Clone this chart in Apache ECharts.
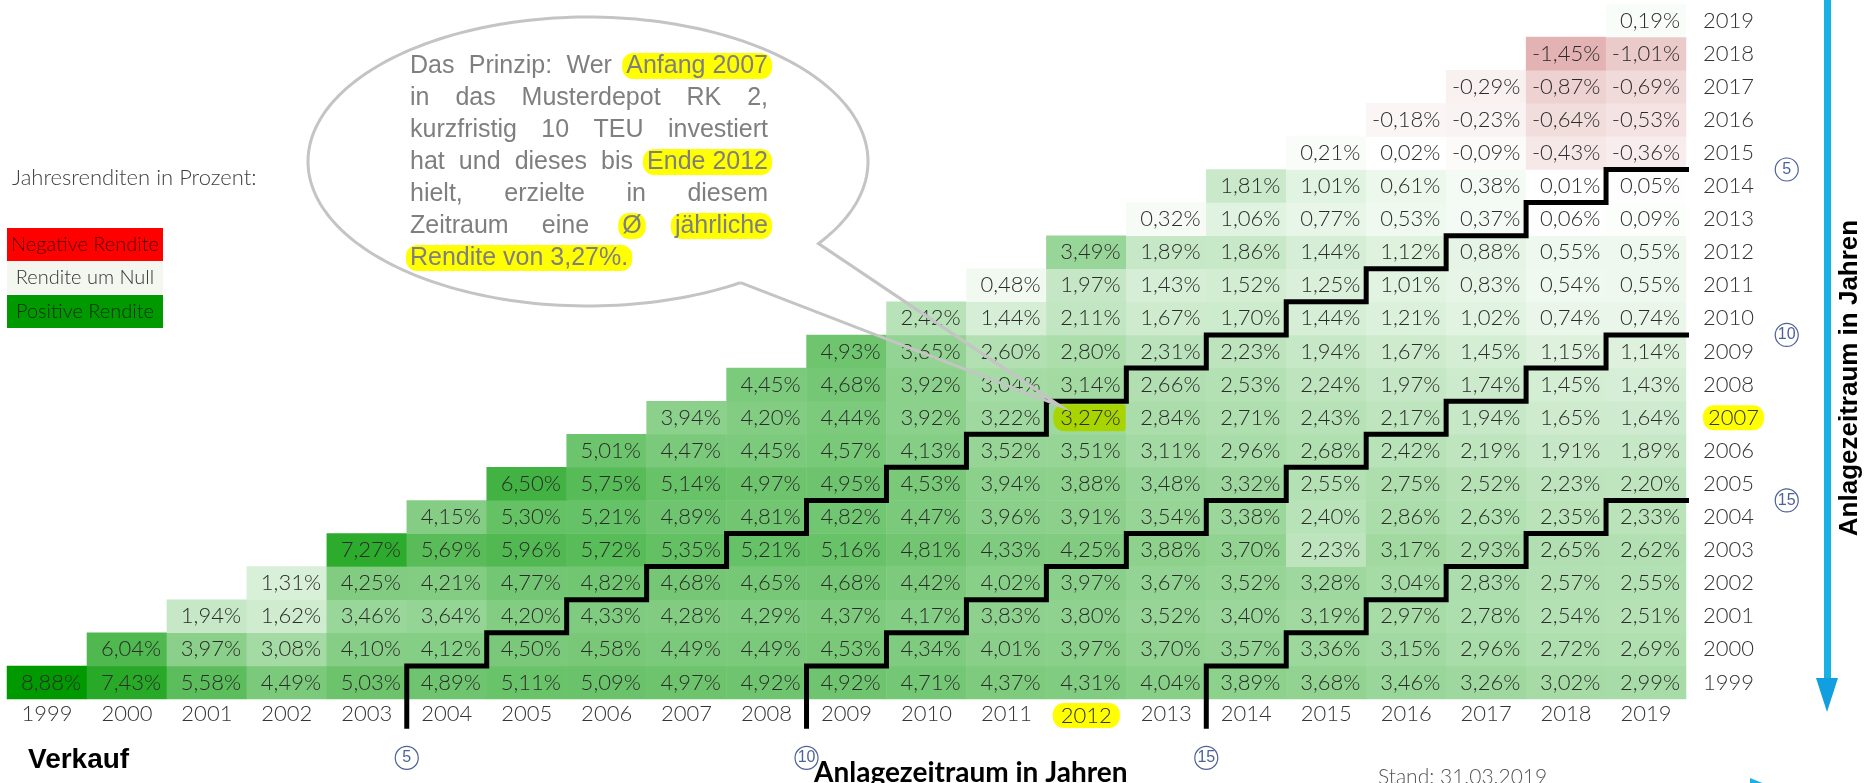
<!DOCTYPE html>
<html><head><meta charset="utf-8">
<script src="https://cdn.jsdelivr.net/npm/echarts@6/dist/echarts.min.js"></script>
<style>html,body{margin:0;padding:0;background:#fff}#c{width:1872px;height:783px}</style>
</head><body><div id="c"></div>
<script>
// ---------- data ----------
const years = ['1999','2000','2001','2002','2003','2004','2005','2006','2007','2008','2009','2010','2011','2012','2013','2014','2015','2016','2017','2018','2019'];
// average annual return (%) by buy year; entries for sell years buyYear..2019
const r1999 = [8.88, 7.43, 5.58, 4.49, 5.03, 4.89, 5.11, 5.09, 4.97, 4.92, 4.92, 4.71, 4.37, 4.31, 4.04, 3.89, 3.68, 3.46, 3.26, 3.02, 2.99];
const r2000 = [6.04, 3.97, 3.08, 4.10, 4.12, 4.50, 4.58, 4.49, 4.49, 4.53, 4.34, 4.01, 3.97, 3.70, 3.57, 3.36, 3.15, 2.96, 2.72, 2.69];
const r2001 = [1.94, 1.62, 3.46, 3.64, 4.20, 4.33, 4.28, 4.29, 4.37, 4.17, 3.83, 3.80, 3.52, 3.40, 3.19, 2.97, 2.78, 2.54, 2.51];
const r2002 = [1.31, 4.25, 4.21, 4.77, 4.82, 4.68, 4.65, 4.68, 4.42, 4.02, 3.97, 3.67, 3.52, 3.28, 3.04, 2.83, 2.57, 2.55];
const r2003 = [7.27, 5.69, 5.96, 5.72, 5.35, 5.21, 5.16, 4.81, 4.33, 4.25, 3.88, 3.70, 2.23, 3.17, 2.93, 2.65, 2.62];
const r2004 = [4.15, 5.30, 5.21, 4.89, 4.81, 4.82, 4.47, 3.96, 3.91, 3.54, 3.38, 2.40, 2.86, 2.63, 2.35, 2.33];
const r2005 = [6.50, 5.75, 5.14, 4.97, 4.95, 4.53, 3.94, 3.88, 3.48, 3.32, 2.55, 2.75, 2.52, 2.23, 2.20];
const r2006 = [5.01, 4.47, 4.45, 4.57, 4.13, 3.52, 3.51, 3.11, 2.96, 2.68, 2.42, 2.19, 1.91, 1.89];
const r2007 = [3.94, 4.20, 4.44, 3.92, 3.22, 3.27, 2.84, 2.71, 2.43, 2.17, 1.94, 1.65, 1.64];
const r2008 = [4.45, 4.68, 3.92, 3.04, 3.14, 2.66, 2.53, 2.24, 1.97, 1.74, 1.45, 1.43];
const r2009 = [4.93, 3.65, 2.60, 2.80, 2.31, 2.23, 1.94, 1.67, 1.45, 1.15, 1.14];
const r2010 = [2.42, 1.44, 2.11, 1.67, 1.70, 1.44, 1.21, 1.02, 0.74, 0.74];
const r2011 = [0.48, 1.97, 1.43, 1.52, 1.25, 1.01, 0.83, 0.54, 0.55];
const r2012 = [3.49, 1.89, 1.86, 1.44, 1.12, 0.88, 0.55, 0.55];
const r2013 = [0.32, 1.06, 0.77, 0.53, 0.37, 0.06, 0.09];
const r2014 = [1.81, 1.01, 0.61, 0.38, 0.01, 0.05];
const r2015 = [0.21, 0.02, -0.09, -0.43, -0.36];
const r2016 = [-0.18, -0.23, -0.64, -0.53];
const r2017 = [-0.29, -0.87, -0.69];
const r2018 = [-1.45, -1.01];
const r2019 = [0.19];
const rows = [r1999, r2000, r2001, r2002, r2003, r2004, r2005, r2006, r2007, r2008, r2009, r2010, r2011, r2012, r2013, r2014, r2015, r2016, r2017, r2018, r2019];
const periods = [5, 10, 15];
const highlightSell = '2012';
const highlightBuy = '2007';
const bubbleLines = [
  [['Das', 0], ['Prinzip:', 0], ['Wer', 0], ['Anfang 2007', 1]],
  [['in', 0], ['das', 0], ['Musterdepot', 0], ['RK', 0], ['2,', 0]],
  [['kurzfristig', 0], ['10', 0], ['TEU', 0], ['investiert', 0]],
  [['hat', 0], ['und', 0], ['dieses', 0], ['bis', 0], ['Ende 2012', 1]],
  [['hielt,', 0], ['erzielte', 0], ['in', 0], ['diesem', 0]],
  [['Zeitraum', 0], ['eine', 0], ['Ø', 1], ['jährliche', 1]],
  [['Rendite von 3,27%.', 1]]
];

// ---------- build ----------
const heat = [];
rows.forEach((row, b) => {
  row.forEach((v, j) => {
    const x = b + j;
    const item = { value: [x, b, v] };
    if (years[x] === highlightSell && years[b] === highlightBuy) {
      item.label = { backgroundColor: '#a8d400', borderRadius: [11, 3, 3, 11], padding: [3, 5, 2, 7], distance: 1 };
    }
    heat.push(item);
  });
});
const N = years.length;
const stairSeries = periods.map(k => {
  const pts = [[k - 0.5, -1.4]];
  for (let i = k; i < N; i++) { pts.push([i - 0.5, i - k + 0.5]); pts.push([i + 0.5, i - k + 0.5]); }
  pts.push([N + 0.46, N - k - 0.5]);
  return {
    type: 'line', xAxisIndex: 1, yAxisIndex: 1, data: pts, symbol: 'none', clip: false, silent: true, z: 5,
    lineStyle: { color: '#000', width: 5, join: 'miter', cap: 'butt' }
  };
});
const markerData = [];
periods.forEach(k => {
  markerData.push([k - 0.5, -2.28, k]);
  markerData.push([N + 0.76, N - k - 0.5, k]);
});
const fmt = v => v.toFixed(2).replace('.', ',') + '%';
const hlFmt = hl => v => v === hl ? '{hl|' + v + '}' : v;

const chart = echarts.init(document.getElementById('c'));
chart.setOption({
  animation: false,
  backgroundColor: '#fff',
  grid: { left: 7, top: 4, right: 186, bottom: 84, containLabel: false, outerBoundsMode: 'none' },
  xAxis: [
    { type: 'category', data: years, position: 'bottom', axisLine: { show: false }, axisTick: { show: false }, splitLine: { show: false },
      axisLabel: { interval: 0, margin: 4, fontSize: 22, fontWeight: 300, fontFamily: 'Lato', color: '#333', formatter: hlFmt(highlightSell),
        rich: { hl: { fontSize: 22, fontWeight: 300, fontFamily: 'Lato', color: '#333', backgroundColor: '#ffff00', borderRadius: 11, padding: [2, 8, 1, 8] } } } },
    { type: 'value', min: -0.5, max: N - 0.5, show: false }
  ],
  yAxis: [
    { type: 'category', data: years, position: 'right', axisLine: { show: false }, axisTick: { show: false }, splitLine: { show: false },
      axisLabel: { interval: 0, margin: 17, fontSize: 22, fontWeight: 300, fontFamily: 'Lato', color: '#333', formatter: hlFmt(highlightBuy),
        rich: { hl: { fontSize: 22, fontWeight: 300, fontFamily: 'Lato', color: '#333', backgroundColor: '#ffff00', borderRadius: 11, padding: [2, 5, 1, 5] } } } },
    { type: 'value', min: -0.5, max: N - 0.5, show: false }
  ],
  visualMap: { show: false, type: 'continuous', min: -4.44, max: 8.88, dimension: 2, seriesIndex: 0,
    inRange: { color: ['#a81414', '#ffffff', '#7cca7c', '#009900'] } },
  series: [
    { type: 'heatmap', data: heat, progressive: 0, emphasis: { disabled: true }, silent: true,
      label: { show: true, position: 'insideRight', distance: 6, fontSize: 22, fontWeight: 300, fontFamily: 'Lato', color: '#2b2b2b',
        formatter: p => fmt(p.value[2]) } },
    ...stairSeries,
    { type: 'scatter', xAxisIndex: 1, yAxisIndex: 1, data: markerData, clip: false, silent: true, z: 6,
      symbol: 'circle', symbolSize: 23,
      itemStyle: { color: '#fff', borderColor: '#1f3a7a', borderWidth: 1.2 },
      label: { show: true, position: 'inside', formatter: p => String(p.value[2]), color: '#1f3a7a', fontSize: 16, fontFamily: 'Liberation Sans Narrow, Liberation Sans' } }
  ]
});

// ---------- annotations ----------
const g = [];
// left legend
g.push({ type: 'text', x: 12, y: 178, style: { text: 'Jahresrenditen in Prozent:', fontSize: 22, fontWeight: 300, fontFamily: 'Lato', fill: '#404040', verticalAlign: 'middle' } });
const legendBoxes = [['Negative Rendite', '#ff0000', '#4a0000', 228], ['Rendite um Null', '#f3f7ef', '#333', 261], ['Positive Rendite', '#009900', '#0a2a0a', 295]];
legendBoxes.forEach(([t, c, tc, y]) => {
  g.push({ type: 'rect', shape: { x: 7, y: y, width: 156, height: 33 }, style: { fill: c } });
  g.push({ type: 'text', x: 85, y: y + 17, style: { text: t, fontSize: 20, fontWeight: 300, fontFamily: 'Lato', fill: tc, align: 'center', verticalAlign: 'middle' } });
});
// speech bubble
const cx = 588, cy = 161.5, rx = 280, ry = 144.5;
const t1 = 34.6 * Math.PI / 180, t2 = 57 * Math.PI / 180;
const cellC = chart.convertToPixel({ xAxisIndex: 0, yAxisIndex: 0 }, [highlightSell, highlightBuy]);
const cellN = chart.convertToPixel({ xAxisIndex: 0, yAxisIndex: 0 }, [years[years.indexOf(highlightSell) + 1], years[years.indexOf(highlightBuy) + 1]]);
const cw = cellN[0] - cellC[0], ch = cellC[1] - cellN[1];
const tip = [cellC[0] - cw / 2 + 14, cellC[1] - ch / 2 + 5];
const pts = [];
for (let i = 0; i <= 200; i++) {
  const t = t2 + (t1 + 2 * Math.PI - t2) * i / 200;
  pts.push([cx + rx * Math.cos(t), cy + ry * Math.sin(t)]);
}
pts.push(tip);
pts.push(pts[0]);
g.push({ type: 'polyline', z: 50, shape: { points: pts }, style: { stroke: '#c4c4c4', lineWidth: 3, fill: null, lineJoin: 'miter' } });
// bubble text (justified)
const ctx = document.createElement('canvas').getContext('2d');
const bFont = 25, bFam = 'Liberation Sans';
ctx.font = bFont + 'px "' + bFam + '"';
const tl = 410, tr = 768, lineY0 = 66, lineGap = 32;
bubbleLines.forEach((line, li) => {
  const widths = line.map(w => ctx.measureText(w[0]).width);
  const total = widths.reduce((a, b) => a + b, 0);
  const last = li === bubbleLines.length - 1;
  const gap = (last || line.length < 2) ? ctx.measureText(' ').width : (tr - tl - total) / (line.length - 1);
  let x = tl;
  const y = lineY0 + li * lineGap;
  line.forEach((w, wi) => {
    if (w[1]) g.push({ type: 'rect', z: 51, shape: { x: x - 4, y: y - 13, width: widths[wi] + 8, height: 26, r: 11 }, style: { fill: '#ffff00' } });
    g.push({ type: 'text', z: 52, x: x, y: y, style: { text: w[0], fontSize: bFont, fontFamily: bFam, fill: '#7f7f7f', verticalAlign: 'middle' } });
    x += widths[wi] + gap;
  });
});
// bottom texts
g.push({ type: 'text', x: 28, y: 760, style: { text: 'Verkauf', fontSize: 28, fontWeight: 'bold', fontFamily: 'Liberation Sans', fill: '#000', verticalAlign: 'middle',
  shadowColor: 'rgba(0,0,0,0.45)', shadowBlur: 3, shadowOffsetX: 2, shadowOffsetY: 2 } });
g.push({ type: 'text', x: 814, y: 773, style: { text: 'Anlagezeitraum in Jahren', fontSize: 28, fontWeight: 'bold', fontFamily: 'Lato', fill: '#000', verticalAlign: 'middle' } });
g.push({ type: 'text', x: 1378, y: 777, style: { text: 'Stand: 31.03.2019', fontSize: 21, fontWeight: 300, fontFamily: 'Lato', fill: '#555', verticalAlign: 'middle' } });
// right arrow + vertical title
g.push({ type: 'rect', shape: { x: 1824, y: 0, width: 7, height: 682 }, style: { fill: '#19b0e6' } });
g.push({ type: 'polygon', shape: { points: [[1816, 678], [1838, 678], [1827, 712]] }, style: { fill: '#129fe0' } });
g.push({ type: 'polygon', shape: { points: [[1750, 778], [1792, 795], [1750, 812]] }, style: { fill: '#19b0e6' } });
g.push({ type: 'text', x: 1850, y: 378, rotation: Math.PI / 2, style: { text: 'Anlagezeitraum in Jahren', fontSize: 26, fontWeight: 'bold', fontFamily: 'Liberation Sans', fill: '#000', align: 'center', verticalAlign: 'middle' } });

chart.setOption({ graphic: { elements: g } });
</script>
</body></html>
